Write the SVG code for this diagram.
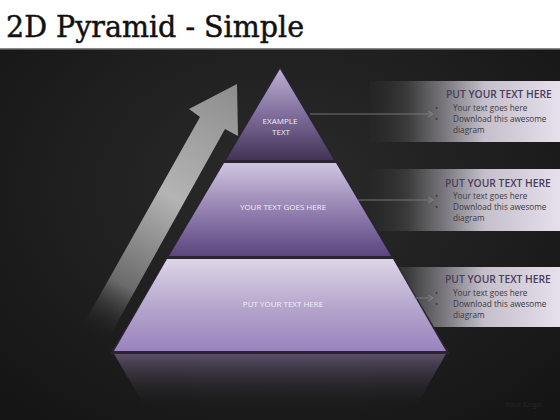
<svg xmlns="http://www.w3.org/2000/svg" width="560" height="420" viewBox="0 0 560 420">
<defs>
<radialGradient id="bg" cx="0.5" cy="0.45" r="0.7">
<stop offset="0" stop-color="#2b2b2b"/>
<stop offset="1" stop-color="#151515"/>
</radialGradient>
<linearGradient id="g1" x1="0" y1="69" x2="0" y2="160" gradientUnits="userSpaceOnUse">
<stop offset="0" stop-color="#bcb0d2"/>
<stop offset="0.5" stop-color="#7f6e9c"/>
<stop offset="1" stop-color="#423356"/>
</linearGradient>
<linearGradient id="g2" x1="0" y1="163" x2="0" y2="256" gradientUnits="userSpaceOnUse">
<stop offset="0" stop-color="#cfc5df"/>
<stop offset="0.5" stop-color="#9582b2"/>
<stop offset="1" stop-color="#5b467e"/>
</linearGradient>
<linearGradient id="g3" x1="0" y1="259" x2="0" y2="351" gradientUnits="userSpaceOnUse">
<stop offset="0" stop-color="#ddd5e7"/>
<stop offset="0.55" stop-color="#b3a4cb"/>
<stop offset="1" stop-color="#9a83be"/>
</linearGradient>
<linearGradient id="refl" x1="0" y1="354" x2="0" y2="410" gradientUnits="userSpaceOnUse">
<stop offset="0" stop-color="#5c4e68"/>
<stop offset="1" stop-color="#1c1c1c" stop-opacity="0"/>
</linearGradient>
<linearGradient id="arrowG" x1="237" y1="85" x2="95" y2="335" gradientUnits="userSpaceOnUse">
<stop offset="0" stop-color="#8d8d8d"/>
<stop offset="0.45" stop-color="#b4b4b4"/>
<stop offset="0.8" stop-color="#6a6a6a"/>
<stop offset="1" stop-color="#1e1e1e" stop-opacity="0"/>
</linearGradient>
<linearGradient id="panelG" x1="370" y1="0" x2="560" y2="0" gradientUnits="userSpaceOnUse">
<stop offset="0" stop-color="#2a2a2a" stop-opacity="0.3"/>
<stop offset="0.2" stop-color="#3c3c3c"/>
<stop offset="0.4" stop-color="#7c7a80"/>
<stop offset="0.6" stop-color="#c4bfca"/>
<stop offset="1" stop-color="#e6e0ec"/>
</linearGradient>
<marker id="arr" markerWidth="6" markerHeight="6" refX="5" refY="3" orient="auto" markerUnits="userSpaceOnUse">
<path d="M0,0 L5,3 L0,6" fill="none" stroke="#8a8a8a" stroke-width="0.8"/>
</marker>
<style>
.tier-label{font-family:"Open Sans","Liberation Sans",sans-serif;font-size:8px;fill:#f2eef6;text-anchor:middle}
.ptitle{font-family:"Open Sans","Liberation Sans",sans-serif;font-size:10.3px;fill:#4a3d5e;font-weight:600}
.pbody{font-family:"Open Sans","Liberation Sans",sans-serif;font-size:8.2px;fill:#3c3a40}
.conn{stroke:#7a7a7a;stroke-width:0.9;fill:none;marker-end:url(#arr)}
</style>
</defs>

<rect x="0" y="0" width="560" height="420" fill="url(#bg)"/>
<rect x="0" y="0" width="560" height="48" fill="#ffffff"/>
<rect x="0" y="48" width="560" height="1.5" fill="#8a8a8a"/>

<g id="title">
<text x="6" y="37" font-family="'DejaVu Serif','Liberation Serif',serif" font-size="30" fill="#111111" stroke="#111111" stroke-width="0.5" textLength="298" lengthAdjust="spacingAndGlyphs">2D Pyramid - Simple</text>
</g>

<g id="panel1">
<rect x="370" y="81" width="190" height="61" fill="url(#panelG)"/>
<text class="ptitle" x="446" y="98">PUT YOUR TEXT HERE</text>
<text class="pbody" x="435" y="111">•</text>
<text class="pbody" x="453" y="111">Your text goes here</text>
<text class="pbody" x="435" y="122">•</text>
<text class="pbody" x="453" y="122">Download this awesome</text>
<text class="pbody" x="453" y="133">diagram</text>
</g>
<g id="panel2">
<rect x="370" y="169" width="190" height="62" fill="url(#panelG)"/>
<text class="ptitle" x="445" y="187">PUT YOUR TEXT HERE</text>
<text class="pbody" x="435" y="199">•</text>
<text class="pbody" x="453" y="199">Your text goes here</text>
<text class="pbody" x="435" y="210">•</text>
<text class="pbody" x="453" y="210">Download this awesome</text>
<text class="pbody" x="453" y="221">diagram</text>
</g>
<g id="panel3">
<rect x="370" y="267" width="190" height="60" fill="url(#panelG)"/>
<text class="ptitle" x="445" y="283">PUT YOUR TEXT HERE</text>
<text class="pbody" x="435" y="296">•</text>
<text class="pbody" x="453" y="296">Your text goes here</text>
<text class="pbody" x="435" y="307">•</text>
<text class="pbody" x="453" y="307">Download this awesome</text>
<text class="pbody" x="453" y="318">diagram</text>
</g>

<g id="arrow">
<polygon points="237,84 238,136 225,129 107,341 82,327 200,117 189,109" fill="url(#arrowG)"/>
</g>

<g id="reflection">
<polygon points="114,354 446,354 408,420 153,420" fill="url(#refl)"/>
</g>

<polygon points="280,66 450,354 110,354" fill="#2b2233"/>

<g id="tier1">
<polygon points="280,69 334,160 226,160" fill="url(#g1)"/>
<text class="tier-label" x="280" y="124">EXAMPLE</text>
<text class="tier-label" x="281" y="135">TEXT</text>
</g>
<g id="tier2">
<polygon points="224,163 336,163 391,256 169,256" fill="url(#g2)"/>
<text class="tier-label" x="283" y="210">YOUR TEXT GOES HERE</text>
</g>
<g id="tier3">
<polygon points="167,259 393,259 446,351 114,351" fill="url(#g3)"/>
<text class="tier-label" x="283" y="307">PUT YOUR TEXT HERE</text>
</g>

<g id="connectors">
<line class="conn" x1="310" y1="114" x2="433" y2="114"/>
<line class="conn" x1="358" y1="200" x2="433" y2="200"/>
<line class="conn" x1="414" y1="298" x2="433" y2="298"/>
</g>

<g id="logo">
<text x="505" y="407" font-family="'Liberation Sans',sans-serif" font-size="8" fill="#262626">Your Logo</text>
</g>
</svg>
